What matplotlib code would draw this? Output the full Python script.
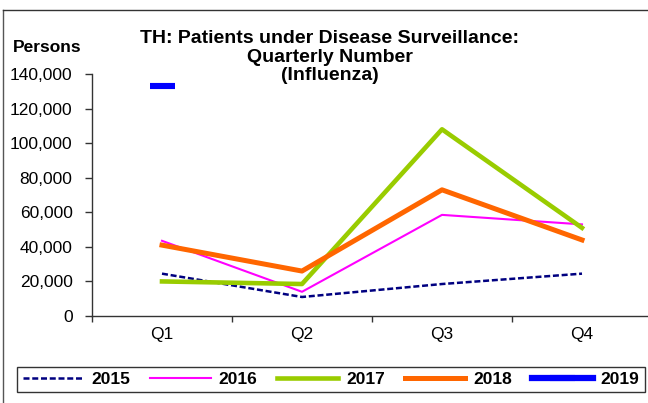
import matplotlib.pyplot as plt
from matplotlib.lines import Line2D

plt.rcParams['font.family'] = ['Liberation Sans', 'DejaVu Sans']

# Quarterly number of influenza patients (persons)
quarters = ["Q1", "Q2", "Q3", "Q4"]
y2015 = [24500, 11000, 18500, 24500]
y2016 = [43500, 14000, 58500, 53000]
y2017 = [20000, 18500, 108000, 51000]
y2018 = [41000, 26000, 73000, 44000]
y2019 = [133000]

W, H = 648, 403
fig = plt.figure(figsize=(W / 100, H / 100), dpi=100)

# chart border (left and top edges visible)
fig.add_artist(Line2D([3 / W, 3 / W], [0, 1 - 10 / H], color="#555555", lw=1))
fig.add_artist(Line2D([3 / W, 1], [1 - 10 / H, 1 - 10 / H], color="#333333", lw=1))

ax = fig.add_axes([92 / W, 87 / H, 560 / W, 242 / H])
x = list(range(len(quarters)))

ax.plot(x, y2015, color="#000080", lw=1.8, dashes=(2.4, 1.1), label="2015")
ax.plot(x, y2016, color="#FF00FF", lw=1.5, label="2016")
ax.plot(x, y2017, color="#99CC00", lw=3.3, label="2017")
ax.plot(x, y2018, color="#FF6600", lw=3.6, label="2018")
ax.plot(x[:len(y2019)], y2019, color="#0000FF", lw=4.5, marker="_",
        markersize=18, markeredgewidth=4.4, label="2019")

ax.set_xlim(-0.5, 3.5)
ax.set_ylim(0, 140000)
ax.set_yticks(range(0, 140001, 20000))
ax.set_yticklabels([f"{v:,}" for v in range(0, 140001, 20000)])
ax.set_xticks([-0.5, 0.5, 1.5, 2.5, 3.5])
ax.set_xticklabels([])
ax.set_xticks(x, minor=True)
ax.set_xticklabels(quarters, minor=True)

for s in ["top", "right"]:
    ax.spines[s].set_visible(False)
for s in ["left", "bottom"]:
    ax.spines[s].set_color("#333333")
    ax.spines[s].set_linewidth(1)
ax.tick_params(axis="y", direction="out", length=5, width=1, color="#333333",
               labelsize=12.5, pad=9)
ax.tick_params(axis="x", which="major", direction="out", length=4, width=1,
               color="#333333")
ax.tick_params(axis="x", which="minor", length=0, labelsize=12.5, pad=8)

fig.text(330 / W, 1 - 30 / H,
         "TH: Patients under Disease Surveillance:\nQuarterly Number\n(Influenza)",
         ha="center", va="top", fontsize=14, fontweight="bold", linespacing=1.12)
fig.text(13 / W, 1 - 48 / H, "Persons", ha="left", va="center",
         fontsize=12.5, fontweight="bold")

leg = fig.legend(loc="center", bbox_to_anchor=(331 / W, 1 - 379.5 / H), ncol=5,
                 frameon=True, fancybox=False, edgecolor="black",
                 prop={"weight": "bold", "size": 12.5}, handlelength=3.5,
                 handletextpad=0.45, columnspacing=1.15, borderpad=0.3)
leg.get_frame().set_linewidth(1)

fig.savefig("out.png", dpi=100)
